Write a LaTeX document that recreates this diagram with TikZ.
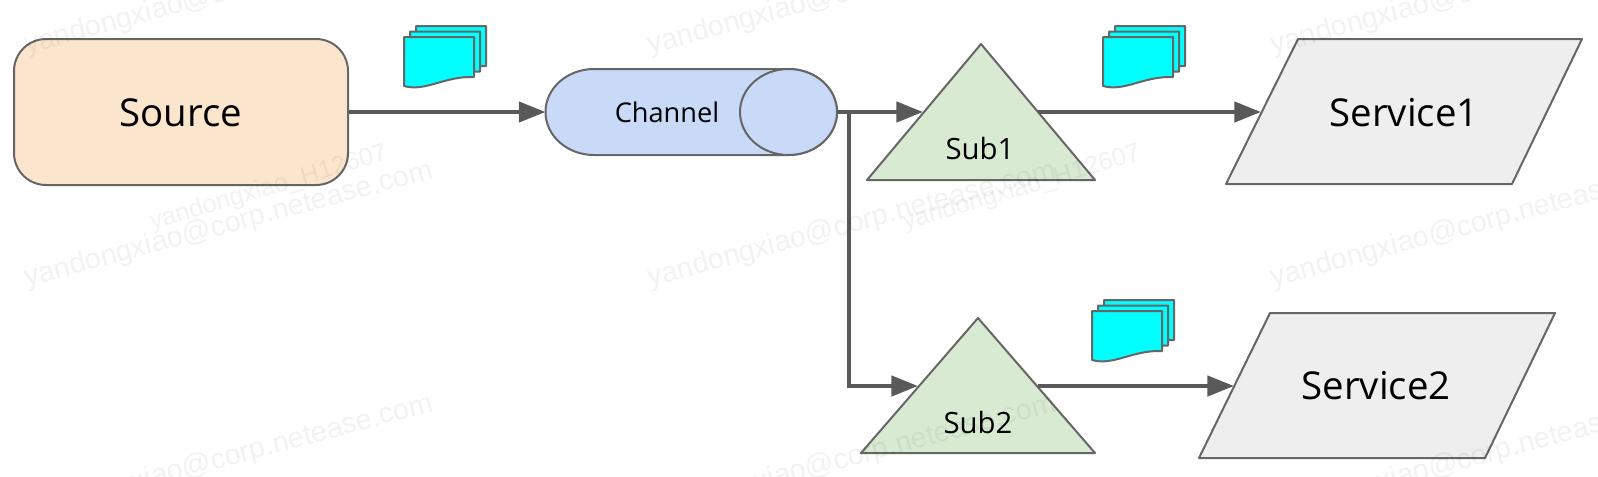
\documentclass[tikz,border=0pt]{standalone}
\usepackage{fontspec}
\setmainfont{Open Sans}
\newfontfamily\wmfont{Liberation Sans}
\usetikzlibrary{arrows.meta}
\definecolor{edgegray}{HTML}{666666}
\definecolor{linegray}{HTML}{595959}
\definecolor{srcfill}{HTML}{FCE5CD}
\definecolor{chanfill}{HTML}{C9DAF8}
\definecolor{subfill}{HTML}{D9EAD3}
\definecolor{svcfill}{HTML}{EEEEEE}
\definecolor{docfill}{HTML}{00FFFF}
\newcommand{\docpage}[2]{%
  \draw[docshape] (#1,#2) -- ++(70,0) -- ++(0,40)
    .. controls +(-30,-1) and +(22,6) .. ++(-70,9) -- cycle;}
\newcommand{\docstack}[2]{%
  \begin{scope}[shift={(#1,#2)}]
    \docpage{12}{-11}
    \docpage{6}{-5.5}
    \docpage{0}{0}
  \end{scope}}
\tikzset{
  shapeline/.style={draw=edgegray,line width=1.5pt,line join=round},
  docshape/.style={draw=edgegray,fill=docfill,line width=1.5pt,line join=round},
  srcbox/.style={shapeline,fill=srcfill,rounded corners=24pt,minimum width=250.5pt,minimum height=109.5pt,inner sep=0pt},
  chanbody/.style={shapeline,fill=chanfill},
  subtri/.style={shapeline,fill=subfill},
  svcpara/.style={shapeline,fill=svcfill},
  biglabel/.style={font=\fontsize{28.8}{32}\selectfont,text=black,inner sep=0pt},
  sublabel/.style={font=\fontsize{22}{26}\selectfont,text=black,inner sep=0pt},
  chanlabel/.style={font=\fontsize{20.4}{24}\selectfont,text=black,inner sep=0pt},
  flow/.style={draw=linegray,line width=3.3pt,-{Triangle[length=20pt,width=15pt]}},
  flowplain/.style={draw=linegray,line width=3.3pt},
  wmark/.style={font=\wmfont\fontsize{21.6}{26}\selectfont,text=black,text opacity=0.05,anchor=base west,rotate=15,inner sep=0pt},
  wmarkid/.style={font=\wmfont\fontsize{19}{24}\selectfont,text=black,text opacity=0.05,anchor=base west,rotate=16.5,inner sep=0pt},
}
\begin{document}
\begin{tikzpicture}[x=0.75pt,y=-0.75pt]
\useasboundingbox (0,0) rectangle (1598,476);
\clip (0,0) rectangle (1598,476);
\fill[white] (0,0) rectangle (1598,476);

% Source
\node[srcbox] (source) at (181,112) {};
\node[biglabel] (sourcetext) at (181,113) {Source};

% Channel
\path[chanbody] (594,69) -- (788.5,69) arc[start angle=-90,end angle=90,x radius=48.5,y radius=43]
  -- (594,155) arc[start angle=90,end angle=270,x radius=48.5,y radius=43] -- cycle;
\path[chanbody] (788.5,112) ellipse[x radius=48.5,y radius=43];
\node[chanlabel] (channeltext) at (667,112) {Channel};
\coordinate (chanin) at (545.5,112);
\coordinate (chanout) at (837,112);
\coordinate (branch) at (849,112);
\coordinate (corner) at (849,386);

% Sub1, Sub2
\path[subtri] (981,44) -- (1095,180) -- (867,180) -- cycle;
\node[sublabel] (subonetext) at (980,148) {Sub1};
\coordinate (subonein) at (923,112);
\coordinate (suboneout) at (1038,112);
\path[subtri] (978,318) -- (1095,453) -- (861,453) -- cycle;
\node[sublabel] (subtwotext) at (978,422) {Sub2};
\coordinate (subtwoin) at (918,386);
\coordinate (subtwoout) at (1038,386);

% Services
\path[svcpara] (1298,39) -- (1582,39) -- (1512,184) -- (1226,184) -- cycle;
\node[biglabel] (svconetext) at (1404,113) {Service1};
\coordinate (svconein) at (1261,112);
\path[svcpara] (1270,313) -- (1555,313) -- (1485,458) -- (1199,458) -- cycle;
\node[biglabel] (svctwotext) at (1376,386) {Service2};
\coordinate (svctwoin) at (1234,386);

% Connectors
\draw[flowplain] (chanout) -- (branch);
\draw[flow] (source.east) -- (chanin);
\draw[flow] (branch) -- (subonein);
\draw[flowplain,line join=miter] (branch) -- (corner) -- ++(10,0);
\draw[flow] (corner) -- (subtwoin);
\draw[flow] (suboneout) -- (svconein);
\draw[flow] (subtwoout) -- (svctwoin);

% Documents
\docstack{404}{37}
\docstack{1103}{37}
\docstack{1092}{311}

% Watermarks
\foreach \wx/\wy [count=\i] in {27/54,650/54,1273/54,27/287,650/287,1273/287,27/520,650/520,1273/520}{
  \node[wmark] (wm\i) at (\wx,\wy) {yandongxiao@corp.netease.com};
}
\node[wmarkid] (wmida) at (152,230) {yandongxiao\_H12607};
\node[wmarkid] (wmidb) at (905,230) {yandongxiao\_H12607};
\end{tikzpicture}
\end{document}
